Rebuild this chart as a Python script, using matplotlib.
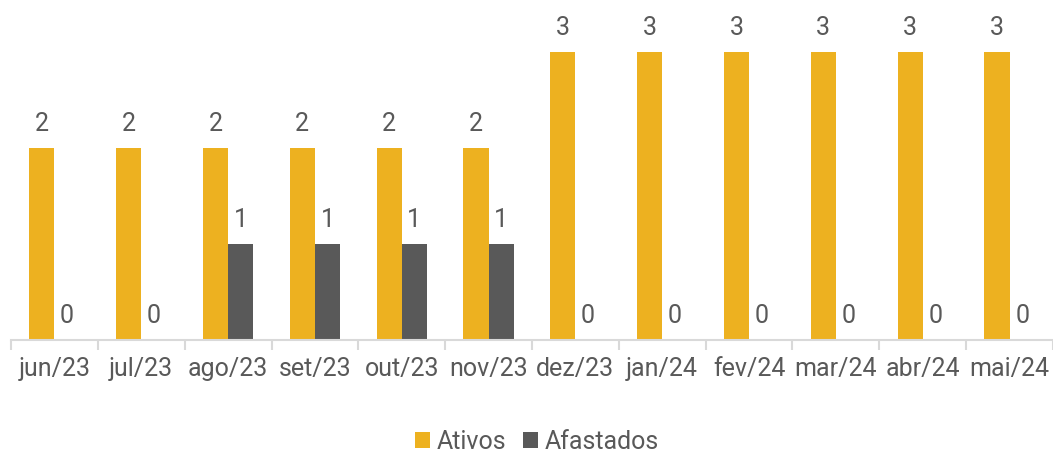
import matplotlib
matplotlib.use("Agg")
import matplotlib.pyplot as plt
import numpy as np

plt.rcParams["font.family"] = ["Roboto", "DejaVu Sans"]

meses = ["jun/23", "jul/23", "ago/23", "set/23", "out/23", "nov/23",
         "dez/23", "jan/24", "fev/24", "mar/24", "abr/24", "mai/24"]
ativos = [2, 2, 2, 2, 2, 2, 3, 3, 3, 3, 3, 3]
afastados = [0, 0, 1, 1, 1, 1, 0, 0, 0, 0, 0, 0]

cor_ativos = "#EDB120"
cor_afastados = "#595959"
cor_texto = "#595959"

W, H = 1053, 453
fig = plt.figure(figsize=(W / 100, H / 100), dpi=100)
ax = fig.add_axes([11 / W, (H - 340) / H, 1042 / W, 336 / H])

x = np.arange(len(meses))
width = 0.29
b1 = ax.bar(x - width / 2, ativos, width, color=cor_ativos, label="Ativos")
b2 = ax.bar(x + width / 2, afastados, width, color=cor_afastados, label="Afastados")

for bars, vals in [(b1, ativos), (b2, afastados)]:
    for bar, v in zip(bars, vals):
        ax.text(bar.get_x() + bar.get_width() / 2, bar.get_height() + 0.12, f"{v}",
                ha="center", va="bottom", fontsize=18, color=cor_texto)

ax.set_xlim(-0.5, len(meses) - 0.5)
ax.set_ylim(0, 3.5)
ax.set_yticks([])
for s in ["top", "right", "left"]:
    ax.spines[s].set_visible(False)
ax.spines["bottom"].set_color("#D9D9D9")
ax.spines["bottom"].set_linewidth(1.5)

# tick marks between categories, labels at centers
ax.set_xticks(np.arange(len(meses) + 1) - 0.5)
ax.set_xticklabels([])
ax.tick_params(axis="x", which="major", length=7, width=1.5, color="#D9D9D9")
ax.set_xticks(x, minor=True)
ax.set_xticklabels(meses, minor=True, fontsize=18, color=cor_texto)
ax.tick_params(axis="x", which="minor", length=0, pad=12)

fig.legend(handles=[b1, b2], loc="center", bbox_to_anchor=(537 / W, 1 - 442 / H),
           ncol=2, frameon=False, fontsize=18, labelcolor=cor_texto,
           handlelength=0.6, handleheight=0.6, handletextpad=0.25, columnspacing=0.7)

fig.savefig("out.png", dpi=100)
plt.close()
